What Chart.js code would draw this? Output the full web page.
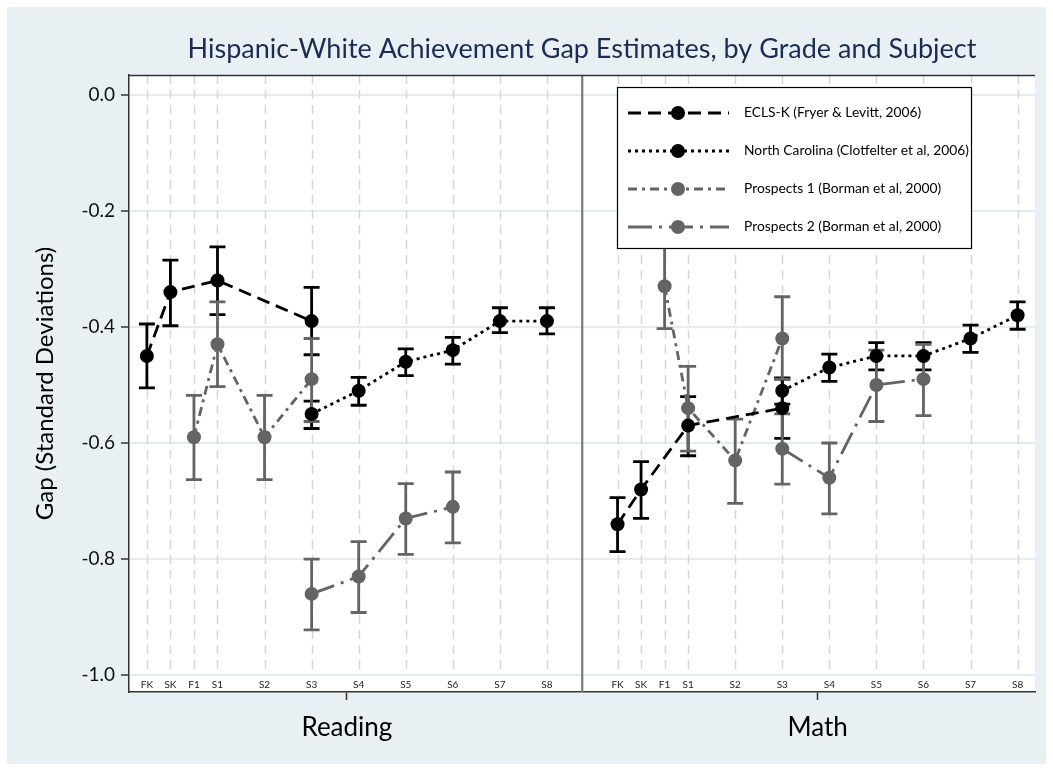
<!DOCTYPE html>
<html><head><meta charset="utf-8">
<script src="https://cdn.jsdelivr.net/npm/chart.js@4.4.1/dist/chart.umd.min.js"></script>
<style>html,body{margin:0;padding:0;background:#fff}#wrap{width:1053px;height:771px}</style>
</head><body><div id="wrap"><canvas id="c" width="1053" height="771"></canvas></div>
<script>
// Grade positions along the x axis (Reading block; Math block is shifted by an offset)
const gradeLabels = ['FK','SK','F1','S1','S2','S3','S4','S5','S6','S7','S8'];
const gradePos = [-0.5, 0, 0.5, 1, 2, 3, 4, 5, 6, 7, 8];
const subjects = ['Reading', 'Math'];
const subjectOffset = [0, 10];
const yTicks = [0.0, -0.2, -0.4, -0.6, -0.8, -1.0];

// ECLS-K (Fryer & Levitt, 2006)
const eclsGrades = ['FK','SK','S1','S3'];
const eclsReading   = [-0.45, -0.34, -0.32, -0.39];
const eclsReadingLo = [-0.505, -0.398, -0.379, -0.448];
const eclsReadingHi = [-0.395, -0.285, -0.262, -0.332];
const eclsMath   = [-0.74, -0.68, -0.57, -0.54];
const eclsMathLo = [-0.787, -0.73, -0.622, -0.592];
const eclsMathHi = [-0.694, -0.632, -0.52, -0.49];

// North Carolina (Clotfelter et al, 2006)
const ncGrades = ['S3','S4','S5','S6','S7','S8'];
const ncReading   = [-0.55, -0.51, -0.46, -0.44, -0.39, -0.39];
const ncReadingLo = [-0.575, -0.535, -0.484, -0.464, -0.41, -0.412];
const ncReadingHi = [-0.528, -0.487, -0.438, -0.418, -0.367, -0.367];
const ncMath   = [-0.51, -0.47, -0.45, -0.45, -0.42, -0.38];
const ncMathLo = [-0.533, -0.494, -0.474, -0.474, -0.444, -0.404];
const ncMathHi = [-0.488, -0.447, -0.427, -0.427, -0.397, -0.357];

// Prospects 1 (Borman et al, 2000)
const p1Grades = ['F1','S1','S2','S3'];
const p1Reading   = [-0.59, -0.43, -0.59, -0.49];
const p1ReadingLo = [-0.663, -0.503, -0.663, -0.563];
const p1ReadingHi = [-0.518, -0.357, -0.518, -0.42];
const p1Math   = [-0.33, -0.54, -0.63, -0.42];
const p1MathLo = [-0.403, -0.614, -0.704, -0.49];
const p1MathHi = [-0.257, -0.468, -0.559, -0.348];

// Prospects 2 (Borman et al, 2000)
const p2Grades = ['S3','S4','S5','S6'];
const p2Reading   = [-0.86, -0.83, -0.73, -0.71];
const p2ReadingLo = [-0.922, -0.892, -0.792, -0.772];
const p2ReadingHi = [-0.80, -0.77, -0.67, -0.65];
const p2Math   = [-0.61, -0.66, -0.50, -0.49];
const p2MathLo = [-0.671, -0.722, -0.563, -0.553];
const p2MathHi = [-0.55, -0.60, -0.44, -0.43];

const FONT = 'Lato, "DejaVu Sans", sans-serif';
const BLACK = '#000000';
const GREY = '#646464';

function posOf(grade, s) { return gradePos[gradeLabels.indexOf(grade)] + subjectOffset[s]; }

// One dataset per study: Reading points, a gap, then Math points
function buildSeries(label, grades, rd, rdLo, rdHi, mt, mtLo, mtHi, color, dash) {
  const data = [], lo = [], hi = [];
  grades.forEach((g, i) => { data.push({x: posOf(g, 0), y: rd[i]}); lo.push(rdLo[i]); hi.push(rdHi[i]); });
  data.push({x: 8.75, y: null}); lo.push(null); hi.push(null);
  grades.forEach((g, i) => { data.push({x: posOf(g, 1), y: mt[i]}); lo.push(mtLo[i]); hi.push(mtHi[i]); });
  return {
    label, data, errLo: lo, errHi: hi,
    borderColor: color, backgroundColor: color,
    pointBackgroundColor: color, pointBorderWidth: 0,
    pointRadius: 7, pointHoverRadius: 7,
    borderWidth: 2.8, borderDash: dash, borderCapStyle: 'butt',
    spanGaps: false, tension: 0, fill: false
  };
}

const datasets = [
  buildSeries('ECLS-K (Fryer & Levitt, 2006)', eclsGrades, eclsReading, eclsReadingLo, eclsReadingHi, eclsMath, eclsMathLo, eclsMathHi, BLACK, [13, 7]),
  buildSeries('North Carolina (Clotfelter et al, 2006)', ncGrades, ncReading, ncReadingLo, ncReadingHi, ncMath, ncMathLo, ncMathHi, BLACK, [3, 4]),
  buildSeries('Prospects 1 (Borman et al, 2000)', p1Grades, p1Reading, p1ReadingLo, p1ReadingHi, p1Math, p1MathLo, p1MathHi, GREY, [9, 5, 3, 5]),
  buildSeries('Prospects 2 (Borman et al, 2000)', p2Grades, p2Reading, p2ReadingLo, p2ReadingHi, p2Math, p2MathLo, p2MathHi, GREY, [24, 7, 3, 7])
];

const decor = {
  id: 'decor',
  beforeDraw(chart) {
    const {ctx, chartArea: a, width, height} = chart;
    ctx.save();
    ctx.fillStyle = '#ffffff';
    ctx.fillRect(0, 0, width, height);
    ctx.fillStyle = '#e8f0f3';
    ctx.fillRect(7, 7, width - 14, height - 14);
    ctx.fillStyle = '#ffffff';
    ctx.fillRect(a.left, a.top, a.right - a.left, a.bottom - a.top);
    ctx.restore();
  },
  beforeDatasetsDraw(chart) {
    const {ctx, chartArea: a, scales: {x, y}} = chart;
    ctx.save();
    // dashed grade guides
    ctx.strokeStyle = '#d6d6d6';
    ctx.lineWidth = 1.5;
    ctx.setLineDash([9, 6]);
    const yEnd = y.getPixelForValue(-1.0) - 3;
    subjectOffset.forEach(off => gradePos.forEach(p => {
      const px = Math.round(x.getPixelForValue(p + off)) + 0.5;
      ctx.beginPath(); ctx.moveTo(px, a.top); ctx.lineTo(px, yEnd); ctx.stroke();
    }));
    ctx.setLineDash([]);
    // grade labels inside the plot
    ctx.fillStyle = '#222';
    ctx.font = '10px ' + FONT;
    ctx.textAlign = 'center';
    ctx.textBaseline = 'middle';
    subjectOffset.forEach(off => gradePos.forEach((p, i) => {
      ctx.fillText(gradeLabels[i], x.getPixelForValue(p + off), a.bottom - 7);
    }));
    // subject divider
    ctx.strokeStyle = '#7a7a7a';
    ctx.lineWidth = 2.2;
    const dx = x.getPixelForValue(8.75);
    ctx.beginPath(); ctx.moveTo(dx, a.top); ctx.lineTo(dx, a.bottom); ctx.stroke();
    // error bars
    chart.data.datasets.forEach(ds => {
      ctx.strokeStyle = ds.borderColor;
      ctx.lineWidth = 2.8;
      ds.data.forEach((pt, i) => {
        if (ds.errLo[i] == null) return;
        const px = x.getPixelForValue(pt.x);
        const pLo = y.getPixelForValue(ds.errLo[i]);
        const pHi = y.getPixelForValue(ds.errHi[i]);
        ctx.beginPath();
        ctx.moveTo(px, pLo); ctx.lineTo(px, pHi);
        ctx.moveTo(px - 8, pLo); ctx.lineTo(px + 8, pLo);
        ctx.moveTo(px - 8, pHi); ctx.lineTo(px + 8, pHi);
        ctx.stroke();
      });
    });
    ctx.restore();
  },
  afterDraw(chart) {
    const {ctx, chartArea: a} = chart;
    ctx.save();
    // top frame line
    ctx.strokeStyle = '#333';
    ctx.lineWidth = 1.5;
    ctx.beginPath(); ctx.moveTo(a.left, a.top + 0.5); ctx.lineTo(a.right, a.top + 0.5); ctx.stroke();
    // title
    ctx.fillStyle = '#1c2b52';
    ctx.font = '27px ' + FONT;
    ctx.textAlign = 'center';
    ctx.textBaseline = 'middle';
    ctx.fillText('Hispanic-White Achievement Gap Estimates, by Grade and Subject', (a.left + a.right) / 2, 49);
    // y axis title
    ctx.fillStyle = '#000';
    ctx.font = '24px ' + FONT;
    ctx.translate(45, (a.top + a.bottom) / 2);
    ctx.rotate(-Math.PI / 2);
    ctx.fillText('Gap (Standard Deviations)', 0, 0);
    ctx.restore();

    // legend box
    ctx.save();
    const lx = a.left + 488, ly = a.top + 12, lw = 354, lh = 161;
    ctx.fillStyle = '#fff';
    ctx.fillRect(lx, ly, lw, lh);
    ctx.strokeStyle = '#000';
    ctx.lineWidth = 1.2;
    ctx.strokeRect(lx + 0.5, ly + 0.5, lw, lh);
    const rows = [26, 64, 102, 140];
    chart.data.datasets.forEach((ds, i) => {
      const ry = ly + rows[i];
      ctx.strokeStyle = ds.borderColor;
      ctx.lineWidth = 2.8;
      ctx.setLineDash(ds.borderDash);
      ctx.beginPath(); ctx.moveTo(lx + 11, ry); ctx.lineTo(lx + 112, ry); ctx.stroke();
      ctx.setLineDash([]);
      ctx.fillStyle = ds.borderColor;
      ctx.beginPath(); ctx.arc(lx + 61, ry, 7, 0, Math.PI * 2); ctx.fill();
      ctx.fillStyle = '#000';
      ctx.font = '13.8px ' + FONT;
      ctx.textAlign = 'left';
      ctx.textBaseline = 'middle';
      ctx.fillText(ds.label, lx + 127, ry);
    });
    ctx.restore();
  }
};

new Chart(document.getElementById('c'), {
  type: 'line',
  data: { datasets },
  options: {
    responsive: false,
    animation: false,
    parsing: true,
    layout: { padding: { left: 0, top: 75, right: 18, bottom: 0 } },
    plugins: { legend: { display: false }, tooltip: { enabled: false }, title: { display: false } },
    scales: {
      x: {
        type: 'linear', position: 'bottom',
        min: -0.88, max: 18.37,
        afterBuildTicks(scale) { scale.ticks = [{value: 3.75}, {value: 13.75}]; },
        afterFit(scale) { scale.height = 79; },
        ticks: {
          autoSkip: false, maxRotation: 0, padding: 12,
          color: '#000', font: { family: FONT, size: 26 },
          callback: v => subjects[v < 8.75 ? 0 : 1]
        },
        grid: { drawOnChartArea: false, drawTicks: true, tickLength: 8, tickColor: '#333', tickWidth: 1.5 },
        border: { display: true, color: '#333', width: 1.5 }
      },
      y: {
        type: 'linear',
        min: -1.029, max: 0.034,
        afterBuildTicks(scale) { scale.ticks = yTicks.map(v => ({value: v})); },
        afterFit(scale) { scale.width = 129; },
        ticks: {
          padding: 6, color: '#111', font: { family: FONT, size: 19 },
          callback: v => v.toFixed(1)
        },
        grid: { color: '#e3ecf0', lineWidth: 2, drawTicks: true, tickLength: 8, tickColor: '#333', tickWidth: 1.5 },
        border: { display: true, color: '#333', width: 1.5 }
      }
    }
  },
  plugins: [decor]
});
</script>
</body></html>
